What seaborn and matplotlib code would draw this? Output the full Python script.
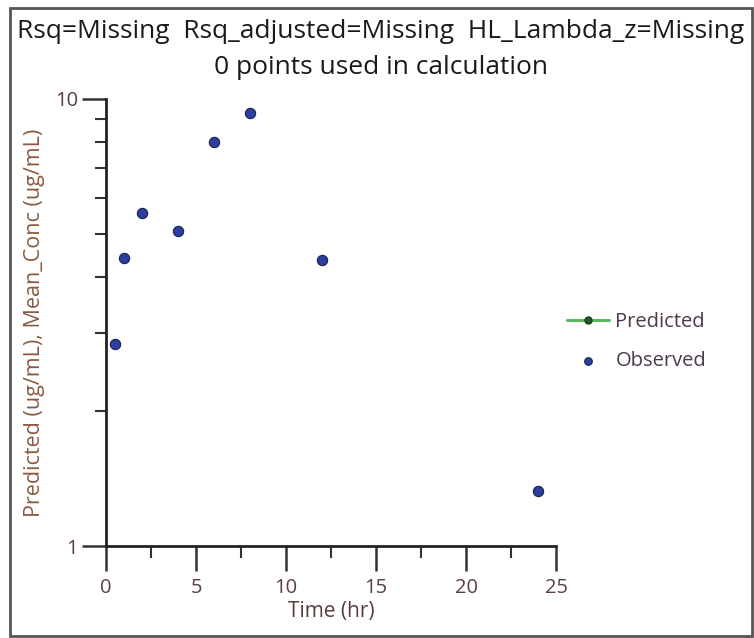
import matplotlib
matplotlib.use("Agg")
import matplotlib.pyplot as plt
import matplotlib.ticker as mticker
from matplotlib.patches import Rectangle
import seaborn as sns
import pandas as pd

# Data
obs_time = [0.5, 1, 2, 4, 6, 8, 12, 24]
obs_conc = [2.83, 4.41, 5.56, 5.07, 8.01, 9.30, 4.36, 1.33]
pred_time = []
pred_conc = []
title_line1 = "Rsq=Missing  Rsq_adjusted=Missing  HL_Lambda_z=Missing"
title_line2 = "0 points used in calculation"
x_ticks = [0, 5, 10, 15, 20, 25]
x_label = "Time (hr)"
y_label = "Predicted (ug/mL), Mean_Conc (ug/mL)"

sns.set_theme(style="white")
plt.rcParams['font.family'] = ['Open Sans', 'DejaVu Sans']

fig = plt.figure(figsize=(7.54, 6.38), dpi=100)
W, H = 754, 638
ax = fig.add_axes([106 / W, 1 - 546 / H, (556 - 106) / W, (546 - 99) / H])

obs_df = pd.DataFrame({"Time": obs_time, "Conc": obs_conc})
pred_df = pd.DataFrame({"Time": pred_time, "Conc": pred_conc})

ax.plot(pred_df["Time"], pred_df["Conc"], color="#5cb85c", lw=2.2,
        marker="o", markersize=5, markerfacecolor="#1f5e2a",
        markeredgecolor="#123d18", label="Predicted")
sns.scatterplot(data=obs_df, x="Time", y="Conc", ax=ax, s=55,
                color="#2b3f9e", edgecolor="#1a2050", linewidth=0.8,
                label="Observed", zorder=3)

ax.set_yscale("log")
ax.set_ylim(1, 10)
ax.set_xlim(0, 25)
ax.set_xticks(x_ticks)
ax.xaxis.set_minor_locator(mticker.MultipleLocator(2.5))
ax.yaxis.set_major_locator(mticker.FixedLocator([1, 10]))
ax.yaxis.set_major_formatter(mticker.FixedFormatter(["1", "10"]))
ax.yaxis.set_minor_locator(mticker.LogLocator(base=10, subs=range(2, 10)))
ax.yaxis.set_minor_formatter(mticker.NullFormatter())

for s in ["top", "right"]:
    ax.spines[s].set_visible(False)
for s in ["left", "bottom"]:
    ax.spines[s].set_color("#222222")
    ax.spines[s].set_linewidth(2)

tick_color = "#5c3d4d"
ax.tick_params(axis="x", which="major", direction="out", length=18, width=1.8,
               color="#333333", labelsize=14.5, labelcolor=tick_color, pad=5,
               bottom=True)
ax.tick_params(axis="x", which="minor", direction="out", length=8.6, width=1.5,
               color="#333333", bottom=True)
ax.tick_params(axis="y", which="major", direction="out", length=17, width=1.8,
               color="#333333", labelsize=14.5, labelcolor=tick_color, pad=3,
               left=True)
ax.tick_params(axis="y", which="minor", direction="out", length=8, width=1.5,
               color="#333333", left=True)

ax.set_xlabel(x_label, fontsize=15, color="#5a3b3b", labelpad=2)
ax.set_ylabel(y_label, fontsize=15.5, color="#8a5a40", labelpad=7)

leg = ax.legend(loc="center left", bbox_to_anchor=(1.0, 0.457), frameon=False,
                fontsize=14.5, labelcolor="#4a3a4a", handlelength=2.1,
                handletextpad=0.3, labelspacing=0.95, borderaxespad=0.15)
for h in leg.legend_handles:
    if hasattr(h, "set_sizes"):
        h.set_sizes([30])

fig.text(0.505, 1 - 32 / H, title_line1, ha="center", va="center",
         fontsize=19, color="#1a1a1a")
fig.text(0.505, 1 - 67 / H, title_line2, ha="center", va="center",
         fontsize=19, color="#1a1a1a")

fig.patches.append(Rectangle((10 / W, 1 - 636 / H), (752 - 10) / W, (636 - 8) / H,
                             transform=fig.transFigure, fill=False,
                             edgecolor="#555555", linewidth=2))

fig.savefig("out.png", dpi=100)
